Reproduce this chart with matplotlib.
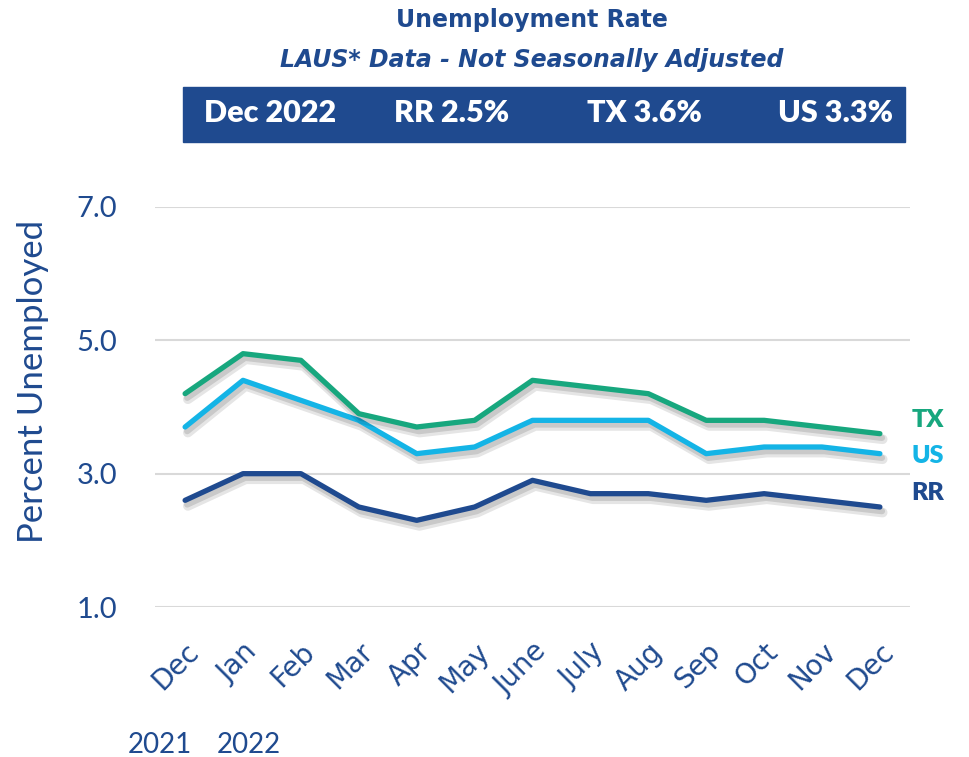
import matplotlib.pyplot as plt
import matplotlib.patheffects as pe
from matplotlib.patches import Rectangle

# ---- data ----
months = ["Dec", "Jan", "Feb", "Mar", "Apr", "May", "June",
          "July", "Aug", "Sep", "Oct", "Nov", "Dec"]
tx = [4.2, 4.8, 4.7, 3.9, 3.7, 3.8, 4.4, 4.3, 4.2, 3.8, 3.8, 3.7, 3.6]
us = [3.7, 4.4, 4.1, 3.8, 3.3, 3.4, 3.8, 3.8, 3.8, 3.3, 3.4, 3.4, 3.3]
rr = [2.6, 3.0, 3.0, 2.5, 2.3, 2.5, 2.9, 2.7, 2.7, 2.6, 2.7, 2.6, 2.5]
yticks = [1.0, 3.0, 5.0, 7.0]
banner = ["Dec 2022", "RR 2.5%", "TX 3.6%", "US 3.3%"]

NAVY = "#1F4A8F"
GREEN = "#17A77E"
BLUE = "#14B4E6"

plt.rcParams['font.family'] = ['Lato', 'DejaVu Sans']

fig = plt.figure(figsize=(9.69, 7.57), dpi=100)
ax = fig.add_axes([155 / 969, 1 - 607 / 757, 755 / 969, 400 / 757])

x = list(range(len(months)))
shadow = [pe.SimpleLineShadow(offset=(2, -4), shadow_color="black", alpha=0.10, linewidth=7),
          pe.SimpleLineShadow(offset=(1.5, -3), shadow_color="black", alpha=0.12, linewidth=4.5),
          pe.Normal()]
for vals, col in [(rr, NAVY), (us, BLUE), (tx, GREEN)]:
    ax.plot(x, vals, color=col, lw=3.8, solid_capstyle="round",
            path_effects=shadow, zorder=3)

ax.set_xlim(-0.52, 12.52)
ax.set_ylim(1.0, 7.0)
ax.set_yticks(yticks)
ax.set_yticklabels([f"{v:.1f}" for v in yticks], fontsize=21, color=NAVY)
ax.yaxis.grid(True, color="#D9D9D9", lw=1.5)
ax.set_axisbelow(True)
ax.tick_params(axis="y", length=0, pad=27)
ax.tick_params(axis="x", length=0, pad=22)
for s in ax.spines.values():
    s.set_visible(False)

ax.set_xticks(x)
ax.set_xticklabels(months, rotation=45, ha="right", rotation_mode="anchor",
                   fontsize=20, color=NAVY, family="DejaVu Sans")

ax.set_ylabel("Percent Unemployed", fontsize=25, color=NAVY)
ax.yaxis.set_label_coords(-0.14, 0.565)

# series labels at right
for name, yv, col in [("TX", 420, GREEN), ("US", 456, BLUE), ("RR", 493, NAVY)]:
    fig.text(928 / 969, 1 - yv / 757, name, color=col, fontsize=18,
             fontweight="heavy", ha="center", va="center")

# year labels
fig.text(160 / 969, 1 - 745 / 757, "2021", color=NAVY, fontsize=20,
         ha="center", va="center")
fig.text(249 / 969, 1 - 745 / 757, "2022", color=NAVY, fontsize=20,
         ha="center", va="center")

# titles
fig.text(532 / 969, 1 - 20 / 757, "Unemployment Rate", color=NAVY,
         fontsize=17, fontweight="bold", ha="center", va="center",
         family="DejaVu Sans")
fig.text(532 / 969, 1 - 60 / 757, "LAUS* Data - Not Seasonally Adjusted",
         color=NAVY, fontsize=17, fontweight="bold", style="italic",
         ha="center", va="center", family="DejaVu Sans")

# banner
fig.patches.append(Rectangle((183 / 969, 1 - 142 / 757), 722 / 969, 55 / 757,
                             transform=fig.transFigure, color=NAVY, zorder=0))
for txt, cx in zip(banner, [270, 452, 644, 836]):
    fig.text(cx / 969, 1 - 113 / 757, txt, color="white", fontsize=22,
             fontweight="heavy", ha="center", va="center")

fig.savefig("out.png", dpi=100)
